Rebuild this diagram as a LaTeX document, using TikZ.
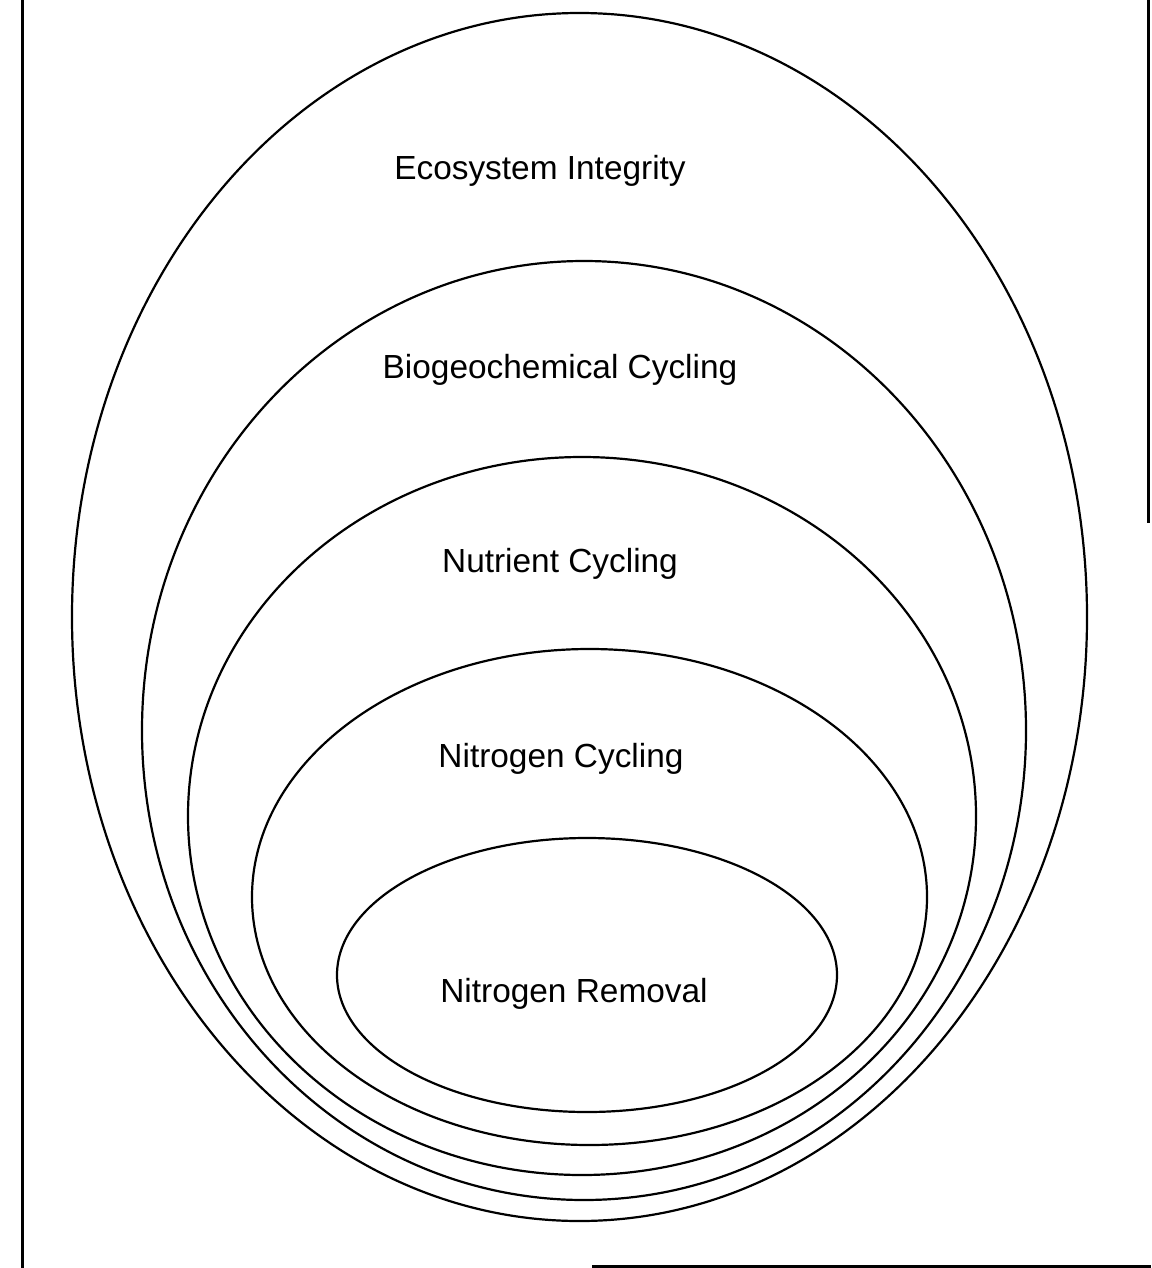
\documentclass[tikz,border=0pt]{standalone}
\usepackage{fontspec}
\setmainfont{Liberation Sans}
\begin{document}
\begin{tikzpicture}[x=1pt,y=-1pt,
  ring/.style={line width=2.2pt},
  frameline/.style={line width=3pt},
  lbl/.style={anchor=base,inner sep=0pt,font=\fontsize{33.4}{40}\selectfont}]
\useasboundingbox (0,0) rectangle (1151,1268);
% frame
\draw[frameline] (22,0) -- (22,1268);
\draw[frameline] (1148,0) -- (1148,523);
\draw[frameline] (592,1266) -- (1151,1266);
% nested ellipses
\draw[ring] (579.5,617) ellipse [x radius=507.5pt, y radius=604pt];
\draw[ring] (584,730.5) ellipse [x radius=442pt, y radius=469.5pt];
\draw[ring] (582,816) ellipse [x radius=394pt, y radius=359pt];
\draw[ring] (589.5,897) ellipse [x radius=337.5pt, y radius=248pt];
\draw[ring] (587,975) ellipse [x radius=250pt, y radius=137pt];
% labels
\node[lbl] (eco) at (540,179) {Ecosystem Integrity};
\node[lbl] (bio) at (560,378) {Biogeochemical Cycling};
\node[lbl] (nut) at (560,572) {Nutrient Cycling};
\node[lbl] (nc) at (561,767) {Nitrogen Cycling};
\node[lbl] (nr) at (574,1002) {Nitrogen Removal};
\end{tikzpicture}
\end{document}
